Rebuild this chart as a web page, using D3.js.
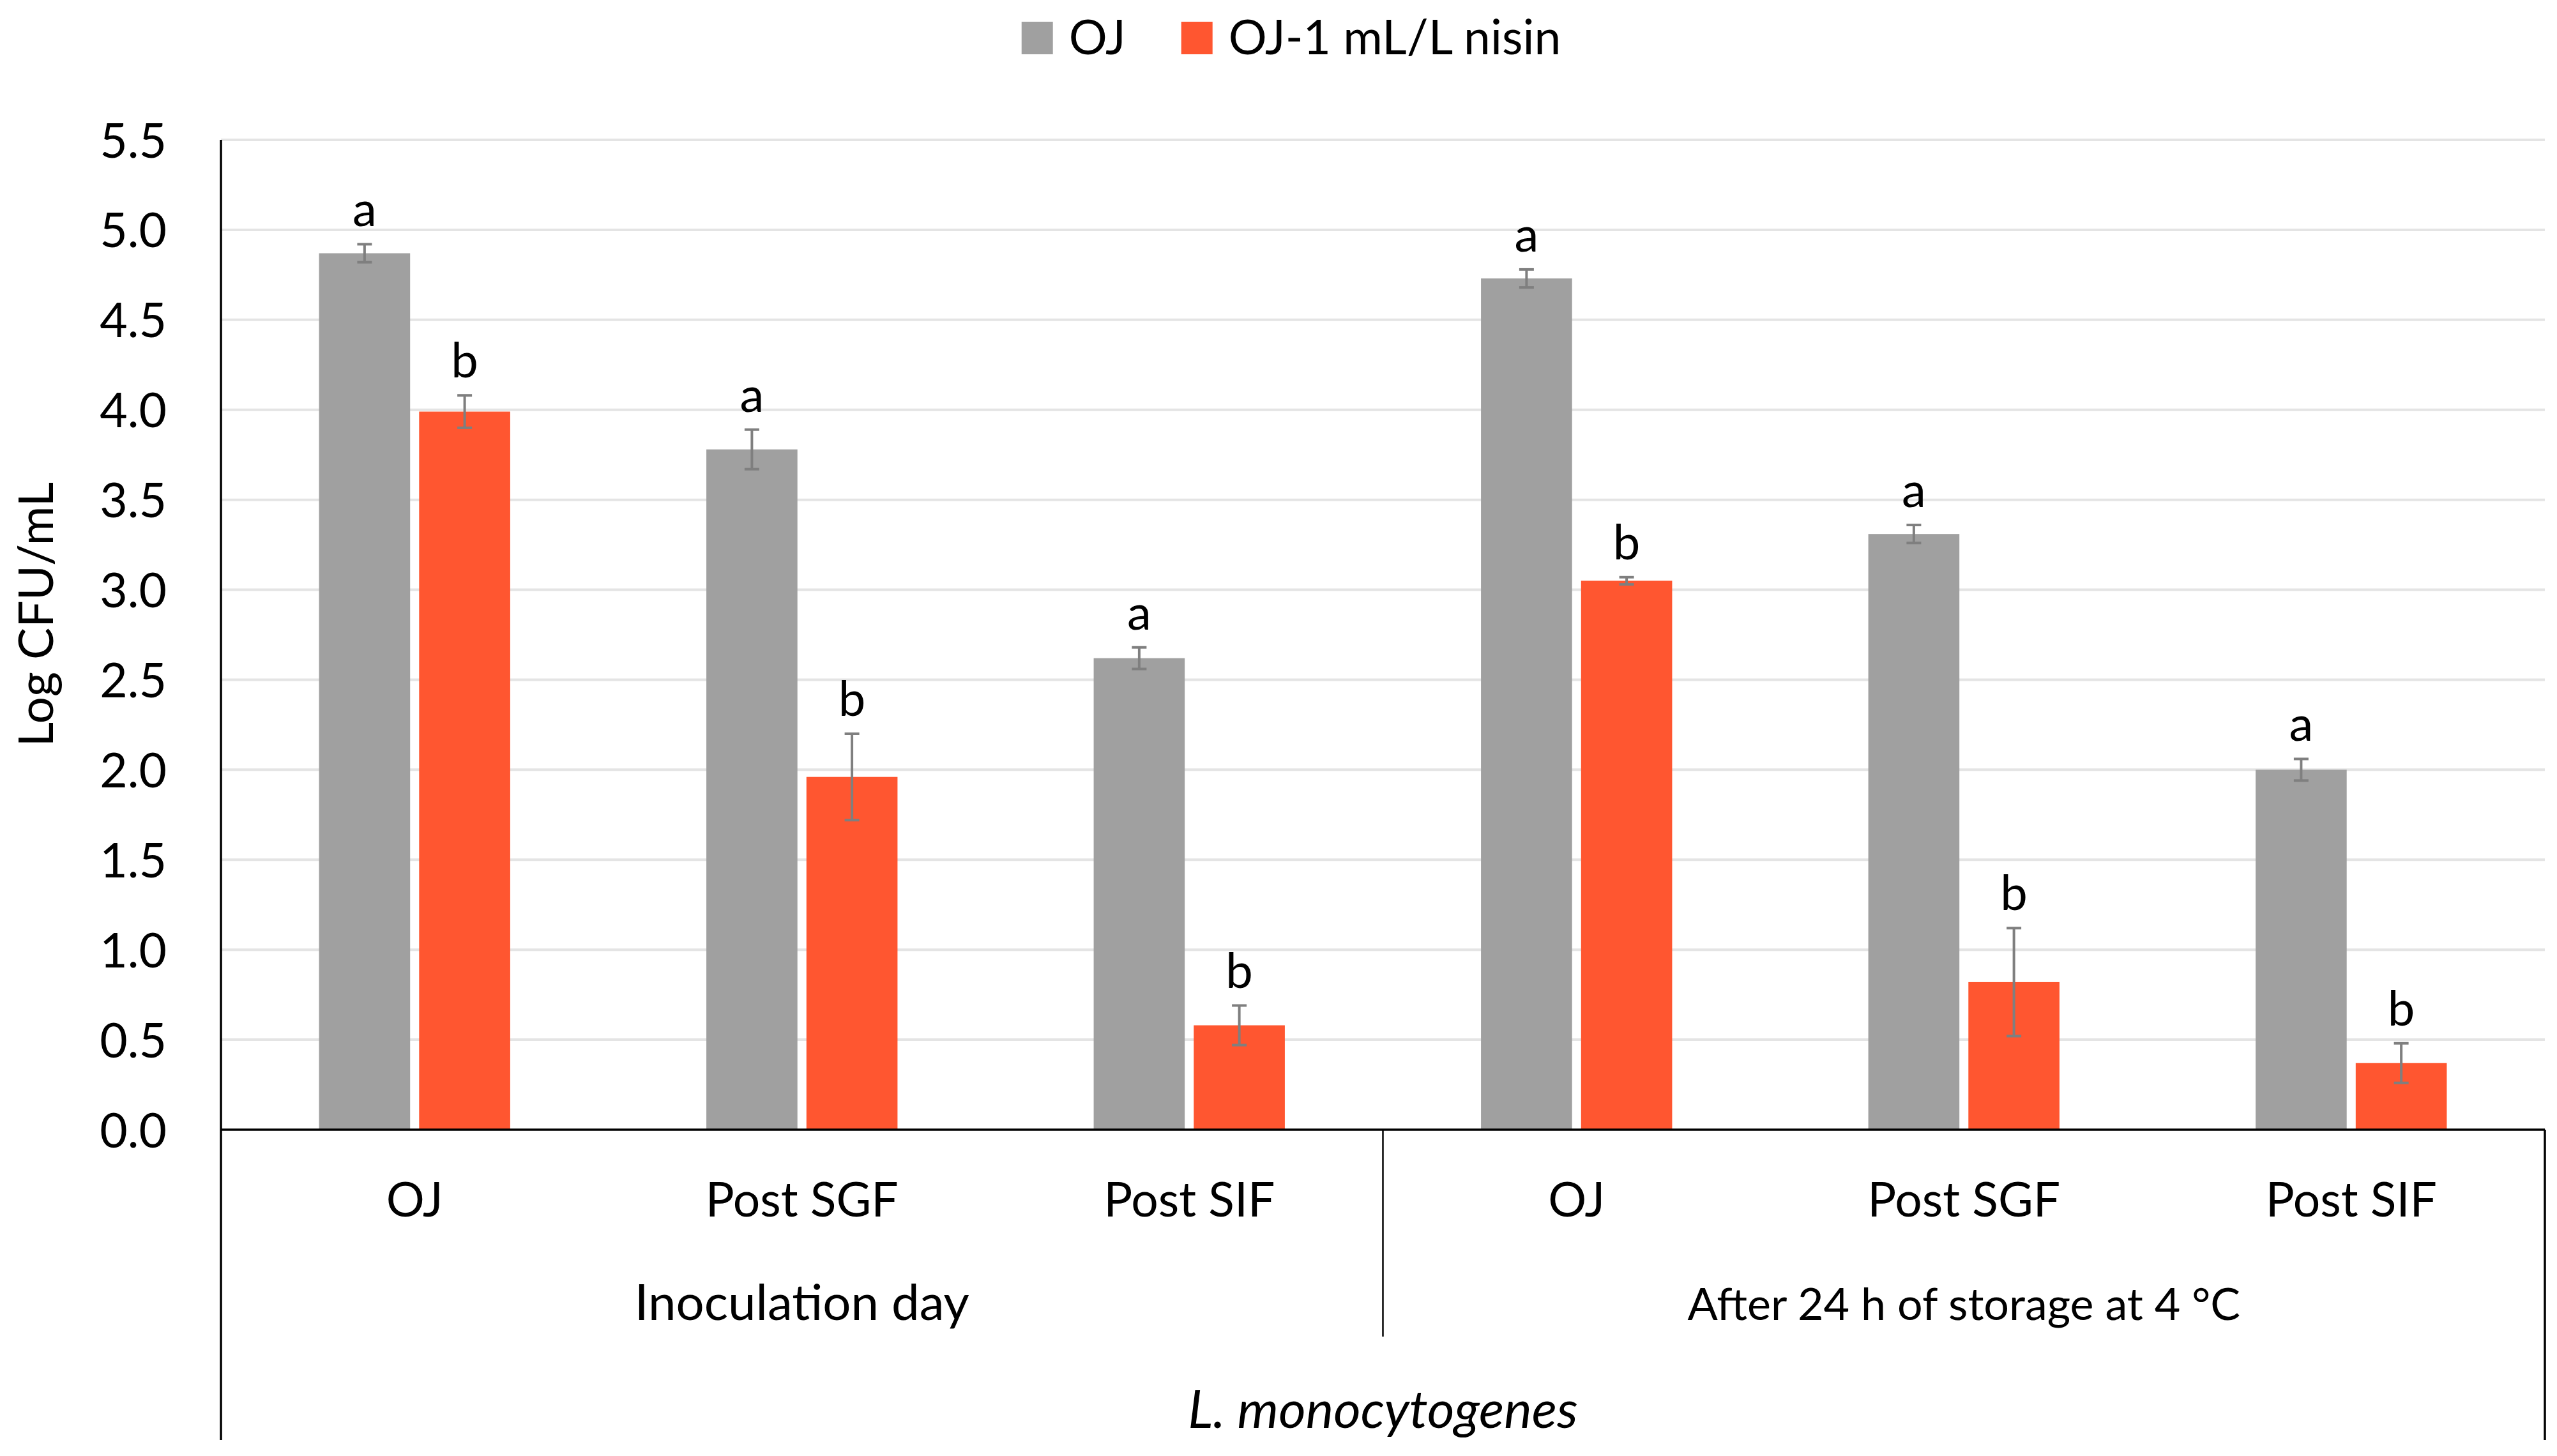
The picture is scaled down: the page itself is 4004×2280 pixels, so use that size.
<!DOCTYPE html>
<html>
<head>
<meta charset="utf-8">
<script src="https://cdn.jsdelivr.net/npm/d3@7"></script>
<style>
  body { margin: 0; background: #fff; }
  text { font-family: Lato, "Open Sans", sans-serif; fill: #000; }
</style>
</head>
<body>
<svg id="chart" width="4004" height="2280"></svg>
<script>
// Chart data
const categories = ["OJ", "Post SGF", "Post SIF", "OJ", "Post SGF", "Post SIF"];
const groups = ["Inoculation day", "After 24 h of storage at 4 °C"];
const species = "L. monocytogenes";
const seriesNames = ["OJ", "OJ-1 mL/L nisin"];
const ojValues = [4.87, 3.78, 2.62, 4.73, 3.31, 2.0];
const ojErrors = [0.05, 0.11, 0.06, 0.05, 0.05, 0.06];
const ojLetters = ["a", "a", "a", "a", "a", "a"];
const nisinValues = [3.99, 1.96, 0.58, 3.05, 0.82, 0.37];
const nisinErrors = [0.09, 0.24, 0.11, 0.02, 0.3, 0.11];
const nisinLetters = ["b", "b", "b", "b", "b", "b"];
const yTicks = [0, 0.5, 1, 1.5, 2, 2.5, 3, 3.5, 4, 4.5, 5, 5.5];

const colors = ["#A0A0A0", "#FF5630"];
const margins = { left: 346, right: 19, top: 219, bottom: 511 };
const width = 4004, height = 2280;
const plotBottom = height - margins.bottom;
const plotRight = width - margins.right;

const svg = d3.select("#chart");
svg.append("rect").attr("width", width).attr("height", height).attr("fill", "#fff");

// Build rows for bars
const rows = categories.map((c, i) => ({
  key: i,
  cat: c,
  bars: [
    { s: 0, v: ojValues[i], e: ojErrors[i], l: ojLetters[i] },
    { s: 1, v: nisinValues[i], e: nisinErrors[i], l: nisinLetters[i] },
  ],
}));

// Scales
const x0 = d3.scaleBand()
  .domain(rows.map((d) => d.key))
  .range([margins.left, plotRight])
  .padding(0);

const x1 = d3.scaleBand()
  .domain([0, 1])
  .range([0, x0.bandwidth()])
  .paddingInner(0.09)
  .paddingOuter(0.98);

const y = d3.scaleLinear()
  .domain([0, 5.5])
  .range([plotBottom, margins.top]);

// Gridlines
svg.append("g")
  .selectAll("line")
  .data(yTicks.filter((t) => t > 0))
  .join("line")
  .attr("x1", margins.left)
  .attr("x2", plotRight)
  .attr("y1", (d) => y(d))
  .attr("y2", (d) => y(d))
  .attr("stroke", "#E4E4E4")
  .attr("stroke-width", 4);

// Y axis labels
const yAxis = svg.append("g")
  .attr("transform", `translate(${margins.left - 85}, 0)`)
  .call(d3.axisLeft(y).tickValues(yTicks).tickFormat(d3.format(".1f")).tickSize(0).tickPadding(0));
yAxis.select(".domain").remove();
yAxis.selectAll("text")
  .attr("font-size", "75px")
  .attr("font-family", "Lato, sans-serif")
  .attr("fill", "#000")
  .attr("dy", "0.36em");

// Y axis title
svg.append("text")
  .attr("transform", `translate(83, 962) rotate(-90)`)
  .attr("text-anchor", "middle")
  .attr("font-size", "75px")
  .text("Log CFU/mL");

// Bars
const catG = svg.append("g")
  .selectAll("g")
  .data(rows)
  .join("g")
  .attr("transform", (d) => `translate(${x0(d.key)}, 0)`);

catG.selectAll("rect")
  .data((d) => d.bars)
  .join("rect")
  .attr("x", (d) => x1(d.s))
  .attr("y", (d) => y(d.v))
  .attr("width", x1.bandwidth())
  .attr("height", (d) => y(0) - y(d.v))
  .attr("fill", (d) => colors[d.s]);

// Error bars
const capW = 23;
const err = catG.selectAll("g.err")
  .data((d) => d.bars)
  .join("g")
  .attr("class", "err")
  .attr("stroke", "#7F7F7F")
  .attr("stroke-width", 4);
err.append("line")
  .attr("x1", (d) => x1(d.s) + x1.bandwidth() / 2)
  .attr("x2", (d) => x1(d.s) + x1.bandwidth() / 2)
  .attr("y1", (d) => y(d.v + d.e))
  .attr("y2", (d) => y(d.v - d.e));
err.append("line")
  .attr("x1", (d) => x1(d.s) + x1.bandwidth() / 2 - capW / 2)
  .attr("x2", (d) => x1(d.s) + x1.bandwidth() / 2 + capW / 2)
  .attr("y1", (d) => y(d.v + d.e))
  .attr("y2", (d) => y(d.v + d.e));
err.append("line")
  .attr("x1", (d) => x1(d.s) + x1.bandwidth() / 2 - capW / 2)
  .attr("x2", (d) => x1(d.s) + x1.bandwidth() / 2 + capW / 2)
  .attr("y1", (d) => y(d.v - d.e))
  .attr("y2", (d) => y(d.v - d.e));

// Significance letters
catG.selectAll("text.letter")
  .data((d) => d.bars)
  .join("text")
  .attr("class", "letter")
  .attr("x", (d) => x1(d.s) + x1.bandwidth() / 2)
  .attr("y", (d) => y(d.v + d.e) - 28)
  .attr("text-anchor", "middle")
  .attr("font-size", "76px")
  .text((d) => d.l);

// Axis lines
const axisG = svg.append("g").attr("stroke", "#000").attr("stroke-width", 3.5);
axisG.append("line")
  .attr("x1", margins.left).attr("x2", margins.left)
  .attr("y1", margins.top).attr("y2", 2255);
axisG.append("line")
  .attr("x1", margins.left).attr("x2", plotRight)
  .attr("y1", plotBottom).attr("y2", plotBottom);
axisG.append("line")
  .attr("x1", plotRight).attr("x2", plotRight)
  .attr("y1", plotBottom).attr("y2", 2255);
// divider between the two groups
const groupEdge = x0(3);
svg.append("line")
  .attr("x1", groupEdge).attr("x2", groupEdge)
  .attr("y1", plotBottom).attr("y2", 2093)
  .attr("stroke", "#000")
  .attr("stroke-width", 2.5);

// Category labels
svg.append("g")
  .selectAll("text")
  .data(rows)
  .join("text")
  .attr("x", (d) => x0(d.key) + x0.bandwidth() / 2)
  .attr("y", 1905)
  .attr("text-anchor", "middle")
  .attr("font-size", "75px")
  .text((d) => d.cat);

// Group labels
svg.append("g")
  .selectAll("text")
  .data(groups)
  .join("text")
  .attr("x", (d, i) => (x0(i * 3) + x0(i * 3 + 2) + x0.bandwidth()) / 2)
  .attr("y", 2067)
  .attr("text-anchor", "middle")
  .attr("font-size", (d, i) => (i === 0 ? "78px" : "70px"))
  .text((d) => d);

// Species label
svg.append("text")
  .attr("x", (margins.left + plotRight) / 2)
  .attr("y", 2236)
  .attr("text-anchor", "middle")
  .attr("font-size", "82px")
  .attr("font-style", "italic")
  .text(species);

// Legend
const legend = svg.append("g");
let lx = 0;
seriesNames.forEach((name, i) => {
  const item = legend.append("g").attr("transform", `translate(${lx}, 0)`);
  item.append("rect")
    .attr("x", 0).attr("y", 34)
    .attr("width", 49).attr("height", 51)
    .attr("fill", colors[i]);
  const t = item.append("text")
    .attr("x", 74).attr("y", 85)
    .attr("font-size", "75px")
    .text(name);
  lx += 74 + t.node().getComputedTextLength() + 87;
});
const legendW = lx - 87;
legend.attr("transform", `translate(${2022 - legendW / 2}, 0)`);
</script>
</body>
</html>
